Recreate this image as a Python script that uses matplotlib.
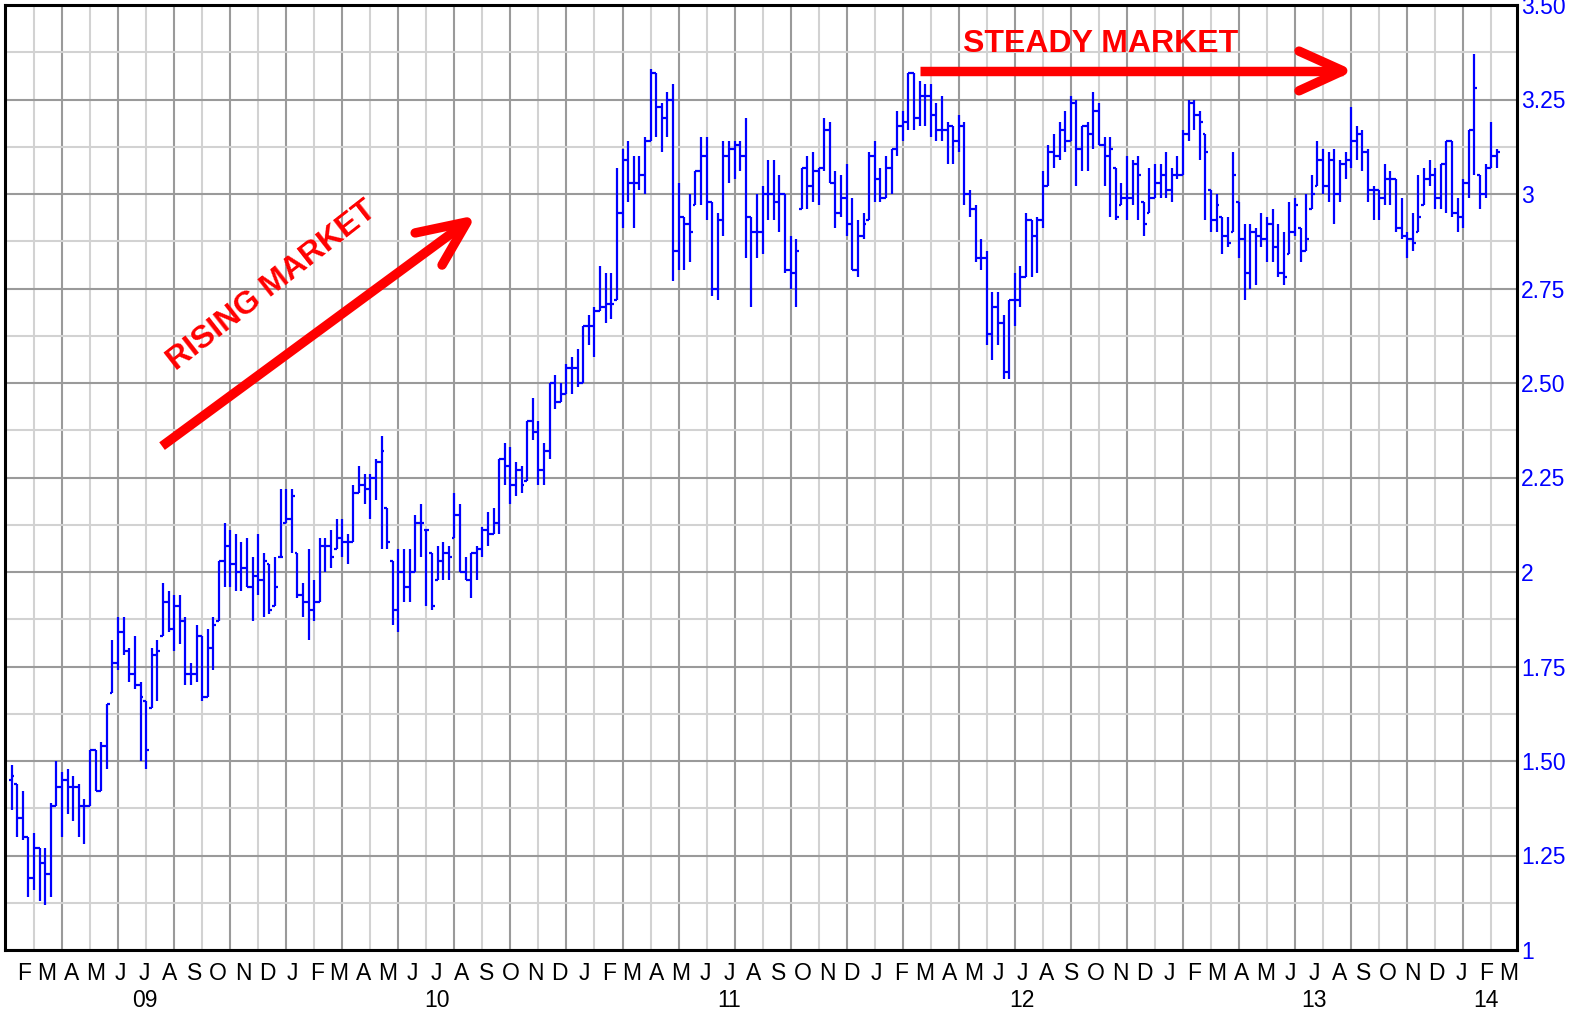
import numpy as np
import pandas as pd
import matplotlib
matplotlib.use("Agg")
import matplotlib.pyplot as plt
from matplotlib.transforms import blended_transform_factory

plt.rcParams['font.family'] = ['Liberation Sans', 'DejaVu Sans']

# weekly bars, first one is the week of 16 Jan 2009
first_week = "2009-01-16"

high = [1.49, 1.44, 1.42, 1.30, 1.31, 1.27, 1.27, 1.39, 1.50, 1.47,
        1.48, 1.46, 1.44, 1.40, 1.53, 1.53, 1.55, 1.65, 1.82, 1.88,
        1.88, 1.80, 1.83, 1.71, 1.66, 1.80, 1.82, 1.97, 1.95, 1.94,
        1.94, 1.88, 1.76, 1.86, 1.83, 1.85, 1.88, 2.03, 2.13, 2.11,
        2.10, 2.08, 2.09, 2.04, 2.10, 2.05, 2.02, 2.04, 2.22, 2.22,
        2.22, 2.05, 1.97, 2.06, 1.98, 2.09, 2.09, 2.11, 2.14, 2.14,
        2.10, 2.23, 2.28, 2.26, 2.26, 2.30, 2.36, 2.17, 2.03, 2.06,
        2.06, 2.06, 2.15, 2.18, 2.11, 2.05, 2.07, 2.08, 2.07, 2.21,
        2.18, 2.04, 2.05, 2.07, 2.12, 2.16, 2.17, 2.30, 2.34, 2.33,
        2.29, 2.28, 2.40, 2.46, 2.40, 2.34, 2.50, 2.52, 2.50, 2.55,
        2.57, 2.59, 2.65, 2.68, 2.70, 2.81, 2.79, 2.79, 3.07, 3.12,
        3.14, 3.10, 3.10, 3.15, 3.33, 3.32, 3.24, 3.27, 3.29, 3.03,
        2.94, 3.00, 3.06, 3.15, 3.15, 2.98, 2.95, 3.14, 3.14, 3.14,
        3.14, 3.20, 2.94, 3.00, 3.02, 3.09, 3.09, 3.05, 3.00, 2.89,
        2.88, 3.07, 3.10, 3.11, 3.07, 3.20, 3.19, 3.06, 3.05, 3.08,
        2.99, 2.93, 2.95, 3.11, 3.14, 3.07, 3.10, 3.12, 3.22, 3.22,
        3.32, 3.32, 3.30, 3.29, 3.29, 3.24, 3.26, 3.19, 3.18, 3.21,
        3.19, 3.01, 2.97, 2.88, 2.85, 2.74, 2.74, 2.68, 2.72, 2.79,
        2.81, 2.95, 2.93, 2.94, 3.06, 3.13, 3.16, 3.19, 3.22, 3.26,
        3.25, 3.18, 3.19, 3.27, 3.24, 3.15, 3.15, 3.07, 3.03, 3.10,
        3.09, 3.10, 2.98, 3.07, 3.08, 3.08, 3.11, 3.07, 3.10, 3.17,
        3.25, 3.25, 3.22, 3.16, 3.01, 3.00, 2.94, 2.94, 3.11, 2.98,
        2.92, 2.92, 2.91, 2.95, 2.94, 2.96, 2.92, 2.90, 2.98, 2.99,
        2.91, 3.00, 3.05, 3.14, 3.12, 3.11, 3.12, 3.09, 3.11, 3.23,
        3.18, 3.17, 3.12, 3.02, 3.01, 3.08, 3.06, 3.04, 2.99, 2.90,
        2.95, 3.05, 3.07, 3.09, 3.07, 3.08, 3.14, 3.14, 2.99, 3.04,
        3.17, 3.37, 3.05, 3.08, 3.19, 3.12]

low = [1.37, 1.30, 1.29, 1.14, 1.16, 1.13, 1.12, 1.14, 1.38, 1.30,
       1.36, 1.34, 1.30, 1.28, 1.38, 1.42, 1.42, 1.48, 1.68, 1.74,
       1.78, 1.71, 1.69, 1.50, 1.48, 1.64, 1.66, 1.83, 1.84, 1.79,
       1.81, 1.70, 1.70, 1.71, 1.66, 1.67, 1.74, 1.87, 1.96, 1.96,
       1.95, 1.95, 1.96, 1.87, 1.94, 1.88, 1.89, 1.91, 2.04, 2.13,
       2.05, 1.93, 1.88, 1.82, 1.87, 1.92, 2.00, 2.01, 2.06, 2.04,
       2.02, 2.08, 2.21, 2.18, 2.14, 2.19, 2.06, 2.06, 1.86, 1.84,
       1.92, 1.92, 2.00, 2.04, 1.91, 1.90, 1.98, 1.98, 1.98, 2.09,
       2.00, 1.98, 1.93, 1.98, 2.04, 2.07, 2.10, 2.10, 2.23, 2.18,
       2.20, 2.21, 2.24, 2.35, 2.23, 2.23, 2.30, 2.43, 2.45, 2.47,
       2.47, 2.49, 2.50, 2.60, 2.57, 2.69, 2.66, 2.67, 2.72, 2.91,
       2.98, 2.91, 3.01, 3.00, 3.14, 3.15, 3.11, 3.15, 2.77, 2.80,
       2.80, 2.82, 2.97, 2.97, 2.93, 2.73, 2.72, 2.89, 3.03, 3.04,
       3.06, 2.83, 2.70, 2.83, 2.84, 2.93, 2.93, 2.90, 2.79, 2.75,
       2.70, 2.96, 2.96, 2.98, 2.97, 3.06, 3.03, 2.91, 2.94, 2.89,
       2.80, 2.78, 2.88, 2.93, 2.98, 2.98, 2.99, 3.00, 3.10, 3.14,
       3.17, 3.17, 3.18, 3.18, 3.15, 3.14, 3.14, 3.08, 3.08, 3.11,
       2.97, 2.94, 2.82, 2.80, 2.60, 2.56, 2.60, 2.51, 2.51, 2.65,
       2.70, 2.78, 2.78, 2.79, 2.91, 3.02, 3.07, 3.09, 3.11, 3.14,
       3.02, 3.06, 3.06, 3.12, 3.13, 3.02, 2.94, 2.93, 2.97, 2.93,
       2.97, 2.93, 2.89, 2.95, 2.99, 2.99, 2.99, 2.98, 3.04, 3.05,
       3.14, 3.17, 3.09, 2.93, 2.90, 2.90, 2.84, 2.86, 2.90, 2.83,
       2.72, 2.75, 2.76, 2.86, 2.82, 2.82, 2.78, 2.76, 2.84, 2.89,
       2.82, 2.85, 2.96, 3.02, 3.00, 2.98, 2.92, 2.98, 3.04, 3.07,
       3.09, 3.06, 2.98, 2.93, 2.93, 2.97, 2.97, 2.90, 2.88, 2.83,
       2.85, 2.90, 2.97, 3.02, 2.96, 2.96, 2.95, 2.94, 2.90, 2.91,
       2.99, 3.05, 2.96, 2.99, 3.07, 3.07]

close = [1.46, 1.35, 1.30, 1.19, 1.27, 1.23, 1.20, 1.38, 1.43, 1.45,
         1.43, 1.43, 1.38, 1.38, 1.53, 1.42, 1.54, 1.65, 1.76, 1.84,
         1.79, 1.73, 1.70, 1.67, 1.53, 1.78, 1.79, 1.92, 1.85, 1.91,
         1.87, 1.73, 1.73, 1.83, 1.67, 1.80, 1.86, 2.03, 2.07, 2.02,
         2.00, 2.01, 1.96, 1.99, 1.98, 2.03, 1.90, 1.96, 2.04, 2.14,
         2.20, 1.94, 1.92, 1.90, 1.92, 2.07, 2.07, 2.04, 2.09, 2.08,
         2.08, 2.21, 2.23, 2.22, 2.25, 2.29, 2.32, 2.08, 1.90, 2.00,
         1.96, 2.00, 2.13, 2.13, 2.11, 1.91, 2.03, 2.05, 2.04, 2.15,
         2.00, 1.98, 2.05, 2.06, 2.11, 2.10, 2.13, 2.30, 2.28, 2.23,
         2.27, 2.23, 2.40, 2.37, 2.27, 2.32, 2.50, 2.45, 2.47, 2.54,
         2.54, 2.50, 2.65, 2.65, 2.69, 2.70, 2.71, 2.71, 2.95, 3.09,
         3.03, 3.03, 3.05, 3.14, 3.32, 3.23, 3.20, 3.25, 2.85, 2.94,
         2.92, 2.90, 3.06, 3.10, 2.98, 2.75, 2.93, 3.10, 3.12, 3.13,
         3.10, 2.94, 2.90, 2.90, 3.00, 3.00, 2.98, 3.00, 2.80, 2.79,
         2.85, 3.07, 3.02, 3.06, 3.07, 3.17, 3.03, 2.95, 2.99, 2.92,
         2.80, 2.89, 2.92, 3.10, 3.04, 2.99, 3.07, 3.12, 3.18, 3.19,
         3.32, 3.20, 3.26, 3.26, 3.21, 3.17, 3.17, 3.18, 3.14, 3.18,
         3.00, 2.96, 2.83, 2.83, 2.63, 2.70, 2.66, 2.53, 2.72, 2.72,
         2.78, 2.93, 2.89, 2.93, 3.02, 3.11, 3.10, 3.17, 3.14, 3.24,
         3.12, 3.18, 3.16, 3.22, 3.13, 3.10, 3.12, 2.94, 2.99, 2.99,
         3.08, 3.05, 2.92, 2.99, 3.03, 3.05, 3.01, 3.05, 3.05, 3.16,
         3.24, 3.21, 3.19, 3.11, 2.93, 2.97, 2.89, 2.87, 3.05, 2.88,
         2.79, 2.90, 2.89, 2.88, 2.92, 2.86, 2.79, 2.78, 2.90, 2.97,
         2.85, 2.88, 3.00, 3.09, 3.02, 3.09, 3.00, 3.08, 3.09, 3.14,
         3.16, 3.11, 3.01, 3.01, 2.99, 3.04, 3.04, 2.91, 2.89, 2.88,
         2.87, 2.94, 3.04, 3.05, 2.99, 3.08, 3.14, 2.95, 2.94, 3.03,
         3.17, 3.28, 3.00, 3.07, 3.10, 3.11]

first_open = 1.45

month_letters = ["J", "F", "M", "A", "M", "J", "J", "A", "S", "O", "N", "D"]
year_labels = {(2009, 7): "09", (2010, 7): "10", (2011, 7): "11",
               (2012, 7): "12", (2013, 7): "13", (2014, 2): "14"}
y_ticks = [1, 1.25, 1.5, 1.75, 2, 2.25, 2.5, 2.75, 3, 3.25, 3.5]
y_tick_labels = ["1", "1.25", "1.50", "1.75", "2", "2.25", "2.50",
                 "2.75", "3", "3.25", "3.50"]

n = len(close)
x = np.arange(n)
hi = np.array(high)
lo = np.array(low)
cl = np.array(close)
op = np.clip(np.r_[first_open, cl[:-1]], lo, hi)

# month labels sit at the 1st of each month, measured in weeks from bar 0
start = pd.Timestamp(first_week)
months = pd.date_range("2009-02-01", "2014-03-01", freq="MS")
month_pos = [(m - start).days / 7 for m in months]
month_txt = [month_letters[m.month - 1] for m in months]
year_pos = [(m - start).days / 7 for m in months if (m.year, m.month) in year_labels]
year_txt = [year_labels[(m.year, m.month)] for m in months if (m.year, m.month) in year_labels]

fig = plt.figure(figsize=(15.85, 10.11), dpi=100)
ax = fig.add_axes([5 / 1585, 61 / 1011, 1512 / 1585, 945 / 1011])

# grid: every 5 weeks, alternating light/dark; every 0.125 horizontally
for k, gx in enumerate(np.arange(4, 270, 5)):
    ax.axvline(gx, color="#9a9a9a" if k % 2 else "#d2d2d2", lw=1.5, zorder=0)
for k, gy in enumerate(np.arange(1.0, 3.51, 0.125)):
    ax.axhline(gy, color="#d2d2d2" if k % 2 else "#9a9a9a", lw=1.5, zorder=0)

blue = "#0000ff"
w = 0.5
ax.vlines(x, lo, hi, color=blue, lw=1.6, zorder=3)
ax.hlines(op, x - w, x, color=blue, lw=1.6, zorder=3)
ax.hlines(cl, x, x + w, color=blue, lw=1.6, zorder=3)

ax.set_xlim(-1.18, 268.6)
ax.set_ylim(1.0, 3.495)

ax.yaxis.tick_right()
ax.set_yticks(y_ticks)
ax.set_yticklabels(y_tick_labels, color=blue, fontsize=16.5)
ax.set_xticks(month_pos)
ax.set_xticklabels(month_txt, fontsize=16.5, color="black")
ax.tick_params(axis="x", length=0, pad=9)
ax.tick_params(axis="y", length=0, pad=3)

trans = blended_transform_factory(ax.transData, ax.transAxes)
for px, t in zip(year_pos, year_txt):
    ax.text(px, -0.041, t, transform=trans, ha="center", va="top",
            fontsize=16.5, color="black")

for s in ax.spines.values():
    s.set_linewidth(2.2)
    s.set_color("black")
    s.set_zorder(5)

# annotations
red = "#ff0000"
ax.plot([26.84, 81.25], [2.333, 2.926], color=red, lw=6.8,
        solid_capstyle="butt", zorder=4)
ax.plot([72.0, 81.25, 76.8], [2.897, 2.926, 2.812], color=red, lw=6.8,
        solid_capstyle="round", solid_joinstyle="round", zorder=4)
ax.text(46.4, 2.758, "RISING MARKET", rotation=38, ha="center",
        va="center", rotation_mode="anchor", color=red, fontsize=23,
        fontweight="bold", zorder=4)

ax.plot([162.1, 237.5], [3.326, 3.326], color=red, lw=6.8,
        solid_capstyle="butt", zorder=4)
ax.plot([229.7, 237.5, 229.7], [3.378, 3.326, 3.273], color=red, lw=6.8,
        solid_capstyle="round", solid_joinstyle="round", zorder=4)
ax.text(194.3, 3.398, "STEADY MARKET", ha="center", va="center",
        color=red, fontsize=23, fontweight="bold", zorder=4)

fig.savefig("out.png", dpi=100)
